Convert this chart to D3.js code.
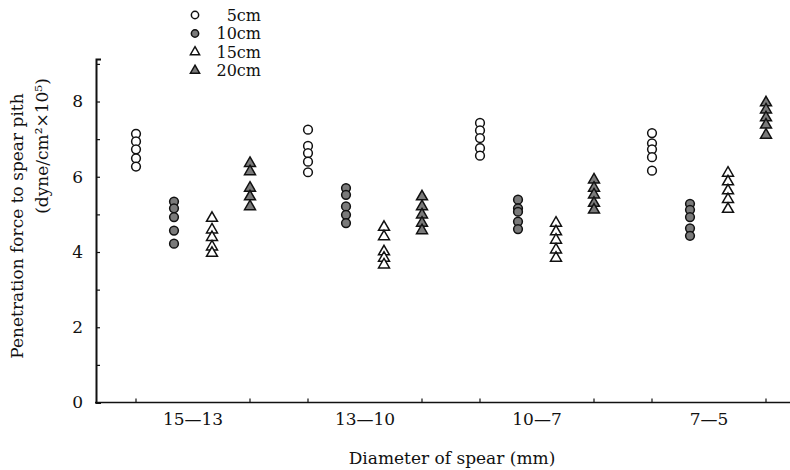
<!DOCTYPE html>
<html>
<head>
<meta charset="utf-8">
<script src="https://cdn.jsdelivr.net/npm/d3@7"></script>
<style>
  body { margin: 0; background: #fff; }
  svg text { font-family: "DejaVu Serif", "Liberation Serif", serif; fill: #111; }
</style>
</head>
<body>
<div id="chart"></div>
<script>
// groups on the x axis (diameter of spear, mm)
var groups = ["15\u201413", "13\u201410", "10\u20147", "7\u20145"];
// depth series shown in the legend
var series = ["5cm", "10cm", "15cm", "20cm"];

// penetration force readings, 5 per group, one array per depth
var force5cm = [
  [7.14, 6.94, 6.73, 6.49, 6.27],
  [7.25, 6.82, 6.63, 6.40, 6.12],
  [7.43, 7.23, 7.03, 6.76, 6.56],
  [7.16, 6.89, 6.73, 6.52, 6.16]
];
var force10cm = [
  [5.34, 5.16, 4.93, 4.57, 4.22],
  [5.70, 5.52, 5.21, 4.99, 4.77],
  [5.39, 5.16, 5.07, 4.81, 4.61],
  [5.28, 5.12, 4.93, 4.63, 4.43]
];
var force15cm = [
  [4.90, 4.59, 4.39, 4.14, 3.97],
  [4.66, 4.41, 4.01, 3.84, 3.66],
  [4.77, 4.54, 4.32, 4.06, 3.84],
  [6.10, 5.87, 5.63, 5.40, 5.14]
];
var force20cm = [
  [6.36, 6.14, 5.70, 5.47, 5.21],
  [5.47, 5.21, 4.99, 4.77, 4.57],
  [5.92, 5.70, 5.52, 5.30, 5.12],
  [7.97, 7.78, 7.57, 7.38, 7.11]
];
var yTicks = [0, 1, 2, 3, 4, 5, 6, 7, 8, 9];

var width = 790, height = 470;
var svg = d3.select("#chart").append("svg")
  .attr("width", width).attr("height", height);

var axisX = 96, axisY = 402.5;
var fontSize = "17px";

// scales
var y = d3.scaleLinear().domain([0, 9.13]).range([axisY, 59]);
var x = d3.scaleBand().domain(groups).range([107, 795]);
var inner = d3.scalePoint().domain(series).range([-57, 57]);

// marker style per series
var markers = {
  "5cm":  {type: d3.symbolCircle,   size: 60, fill: "#fff"},
  "10cm": {type: d3.symbolCircle,   size: 60, fill: "#7a7a7a"},
  "15cm": {type: d3.symbolTriangle, size: 52, fill: "#fff"},
  "20cm": {type: d3.symbolTriangle, size: 52, fill: "#7a7a7a"}
};

// build points table
var allSeries = [force5cm, force10cm, force15cm, force20cm];
var points = [];
series.forEach(function(s, si) {
  groups.forEach(function(g, gi) {
    allSeries[si][gi].forEach(function(v) {
      points.push({series: s, group: g, value: v});
    });
  });
});

// y axis (ticks pointing inward)
var yAxis = svg.append("g")
  .attr("transform", "translate(" + axisX + ",0)")
  .call(d3.axisLeft(y).tickValues(yTicks)
    .tickSizeInner(-4).tickSizeOuter(-5).tickPadding(13)
    .tickFormat(function(d) { return d % 2 === 0 ? d : ""; }));
yAxis.select(".domain").attr("stroke", "#111").attr("stroke-width", 2);
yAxis.selectAll(".tick line").attr("stroke", "#111").attr("stroke-width", 1.2);
yAxis.selectAll("text").style("font-size", fontSize)
  .attr("font-family", null).attr("fill", null);

// x axis: labels from band scale, line drawn to the right edge
var xAxis = svg.append("g")
  .attr("transform", "translate(0," + axisY + ")")
  .call(d3.axisBottom(x).tickSize(0).tickPadding(10));
xAxis.select(".domain").remove();
xAxis.selectAll("text").style("font-size", fontSize)
  .attr("font-family", null).attr("fill", null);

svg.append("line")
  .attr("x1", axisX - 1).attr("x2", width)
  .attr("y1", axisY).attr("y2", axisY)
  .attr("stroke", "#111").attr("stroke-width", 1.6);

// small upward ticks at first and last series of each group
var xTickPos = [];
groups.forEach(function(g) {
  xTickPos.push(x(g) + x.bandwidth() / 2 + inner(series[0]));
  xTickPos.push(x(g) + x.bandwidth() / 2 + inner(series[3]));
});
svg.selectAll(".xtick").data(xTickPos).enter().append("line")
  .attr("class", "xtick")
  .attr("x1", function(d) { return d; }).attr("x2", function(d) { return d; })
  .attr("y1", axisY).attr("y2", axisY - 4)
  .attr("stroke", "#111").attr("stroke-width", 1.2);

// points
svg.selectAll(".pt").data(points).enter().append("path")
  .attr("class", "pt")
  .attr("transform", function(d) {
    return "translate(" + (x(d.group) + x.bandwidth() / 2 + inner(d.series)) + "," + y(d.value) + ")";
  })
  .attr("d", function(d) { var m = markers[d.series]; return d3.symbol().type(m.type).size(m.size)(); })
  .attr("fill", function(d) { return markers[d.series].fill; })
  .attr("stroke", "#111")
  .attr("stroke-width", 1.5);

// legend
var legend = svg.append("g");
series.forEach(function(s, i) {
  var m = markers[s];
  var ly = 15 + i * 18.5;
  legend.append("path")
    .attr("transform", "translate(195," + ly + ")")
    .attr("d", d3.symbol().type(m.type).size(m.size * 0.7)())
    .attr("fill", m.fill).attr("stroke", "#111").attr("stroke-width", 1.5);
  legend.append("text")
    .attr("x", 261).attr("y", ly + 5.5)
    .attr("text-anchor", "end")
    .style("font-size", "16px")
    .text(s);
});

// axis titles
svg.append("text")
  .attr("x", 452).attr("y", 464)
  .attr("text-anchor", "middle")
  .style("font-size", fontSize)
  .text("Diameter of spear (mm)");

svg.append("text")
  .attr("transform", "translate(23,226) rotate(-90)")
  .attr("text-anchor", "middle")
  .style("font-size", fontSize)
  .text("Penetration force to spear pith");

svg.append("text")
  .attr("transform", "translate(48,146) rotate(-90)")
  .attr("text-anchor", "middle")
  .style("font-size", fontSize)
  .text("(dyne/cm\u00b2\u00d710\u2075)");
</script>
</body>
</html>
